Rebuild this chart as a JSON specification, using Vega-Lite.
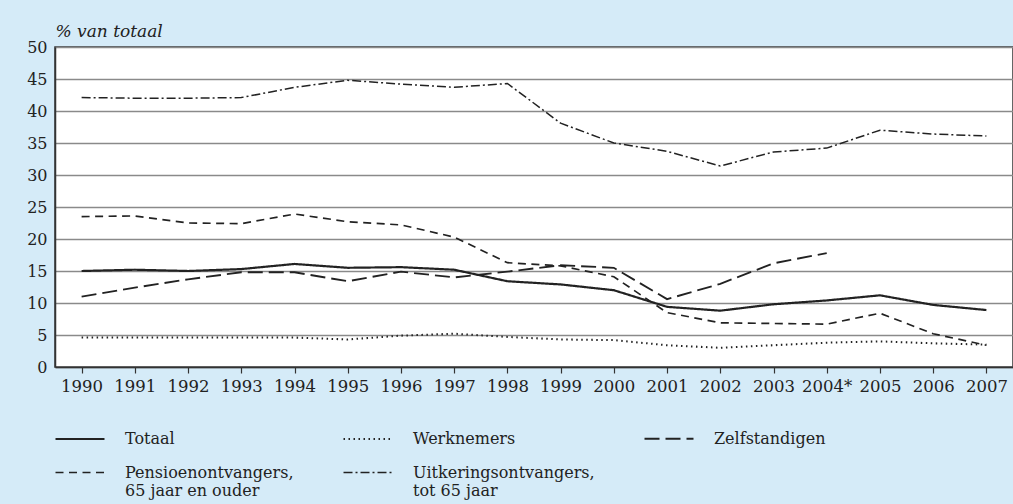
{
  "$schema": "https://vega.github.io/schema/vega-lite/v6.json",
  "autosize": {"type": "none"},
  "width": 958,
  "height": 320,
  "padding": {"left": 55, "top": 47, "right": 0, "bottom": 137},
  "background": "#d5ebf8",
  "config": {
    "view": {"fill": "white", "stroke": "#333", "strokeWidth": 1.5},
    "font": "DejaVu Serif"
  },
  "datasets": {
    "reeksen": [
      {"jaar": "1990", "reeks": "Totaal", "waarde": 15.0},
      {"jaar": "1991", "reeks": "Totaal", "waarde": 15.2},
      {"jaar": "1992", "reeks": "Totaal", "waarde": 15.0},
      {"jaar": "1993", "reeks": "Totaal", "waarde": 15.3},
      {"jaar": "1994", "reeks": "Totaal", "waarde": 16.1},
      {"jaar": "1995", "reeks": "Totaal", "waarde": 15.5},
      {"jaar": "1996", "reeks": "Totaal", "waarde": 15.6},
      {"jaar": "1997", "reeks": "Totaal", "waarde": 15.2},
      {"jaar": "1998", "reeks": "Totaal", "waarde": 13.4},
      {"jaar": "1999", "reeks": "Totaal", "waarde": 12.9},
      {"jaar": "2000", "reeks": "Totaal", "waarde": 12.0},
      {"jaar": "2001", "reeks": "Totaal", "waarde": 9.4},
      {"jaar": "2002", "reeks": "Totaal", "waarde": 8.8},
      {"jaar": "2003", "reeks": "Totaal", "waarde": 9.8},
      {"jaar": "2004*", "reeks": "Totaal", "waarde": 10.4},
      {"jaar": "2005", "reeks": "Totaal", "waarde": 11.2},
      {"jaar": "2006", "reeks": "Totaal", "waarde": 9.7},
      {"jaar": "2007", "reeks": "Totaal", "waarde": 8.9},
      {"jaar": "1990", "reeks": "Werknemers", "waarde": 4.6},
      {"jaar": "1991", "reeks": "Werknemers", "waarde": 4.6},
      {"jaar": "1992", "reeks": "Werknemers", "waarde": 4.6},
      {"jaar": "1993", "reeks": "Werknemers", "waarde": 4.6},
      {"jaar": "1994", "reeks": "Werknemers", "waarde": 4.6},
      {"jaar": "1995", "reeks": "Werknemers", "waarde": 4.3},
      {"jaar": "1996", "reeks": "Werknemers", "waarde": 4.9},
      {"jaar": "1997", "reeks": "Werknemers", "waarde": 5.2},
      {"jaar": "1998", "reeks": "Werknemers", "waarde": 4.7},
      {"jaar": "1999", "reeks": "Werknemers", "waarde": 4.3},
      {"jaar": "2000", "reeks": "Werknemers", "waarde": 4.2},
      {"jaar": "2001", "reeks": "Werknemers", "waarde": 3.4},
      {"jaar": "2002", "reeks": "Werknemers", "waarde": 3.0},
      {"jaar": "2003", "reeks": "Werknemers", "waarde": 3.4},
      {"jaar": "2004*", "reeks": "Werknemers", "waarde": 3.8},
      {"jaar": "2005", "reeks": "Werknemers", "waarde": 4.0},
      {"jaar": "2006", "reeks": "Werknemers", "waarde": 3.7},
      {"jaar": "2007", "reeks": "Werknemers", "waarde": 3.5},
      {"jaar": "1990", "reeks": "Zelfstandigen", "waarde": 11.0},
      {"jaar": "1991", "reeks": "Zelfstandigen", "waarde": 12.4},
      {"jaar": "1992", "reeks": "Zelfstandigen", "waarde": 13.7},
      {"jaar": "1993", "reeks": "Zelfstandigen", "waarde": 14.8},
      {"jaar": "1994", "reeks": "Zelfstandigen", "waarde": 14.8},
      {"jaar": "1995", "reeks": "Zelfstandigen", "waarde": 13.4},
      {"jaar": "1996", "reeks": "Zelfstandigen", "waarde": 14.9},
      {"jaar": "1997", "reeks": "Zelfstandigen", "waarde": 14.0},
      {"jaar": "1998", "reeks": "Zelfstandigen", "waarde": 14.9},
      {"jaar": "1999", "reeks": "Zelfstandigen", "waarde": 15.9},
      {"jaar": "2000", "reeks": "Zelfstandigen", "waarde": 15.5},
      {"jaar": "2001", "reeks": "Zelfstandigen", "waarde": 10.6},
      {"jaar": "2002", "reeks": "Zelfstandigen", "waarde": 13.0},
      {"jaar": "2003", "reeks": "Zelfstandigen", "waarde": 16.2},
      {"jaar": "2004*", "reeks": "Zelfstandigen", "waarde": 17.8},
      {"jaar": "1990", "reeks": "Pensioenontvangers, 65 jaar en ouder", "waarde": 23.5},
      {"jaar": "1991", "reeks": "Pensioenontvangers, 65 jaar en ouder", "waarde": 23.6},
      {"jaar": "1992", "reeks": "Pensioenontvangers, 65 jaar en ouder", "waarde": 22.5},
      {"jaar": "1993", "reeks": "Pensioenontvangers, 65 jaar en ouder", "waarde": 22.4},
      {"jaar": "1994", "reeks": "Pensioenontvangers, 65 jaar en ouder", "waarde": 23.9},
      {"jaar": "1995", "reeks": "Pensioenontvangers, 65 jaar en ouder", "waarde": 22.7},
      {"jaar": "1996", "reeks": "Pensioenontvangers, 65 jaar en ouder", "waarde": 22.2},
      {"jaar": "1997", "reeks": "Pensioenontvangers, 65 jaar en ouder", "waarde": 20.3},
      {"jaar": "1998", "reeks": "Pensioenontvangers, 65 jaar en ouder", "waarde": 16.3},
      {"jaar": "1999", "reeks": "Pensioenontvangers, 65 jaar en ouder", "waarde": 15.8},
      {"jaar": "2000", "reeks": "Pensioenontvangers, 65 jaar en ouder", "waarde": 14.1},
      {"jaar": "2001", "reeks": "Pensioenontvangers, 65 jaar en ouder", "waarde": 8.5},
      {"jaar": "2002", "reeks": "Pensioenontvangers, 65 jaar en ouder", "waarde": 6.9},
      {"jaar": "2003", "reeks": "Pensioenontvangers, 65 jaar en ouder", "waarde": 6.8},
      {"jaar": "2004*", "reeks": "Pensioenontvangers, 65 jaar en ouder", "waarde": 6.7},
      {"jaar": "2005", "reeks": "Pensioenontvangers, 65 jaar en ouder", "waarde": 8.4},
      {"jaar": "2006", "reeks": "Pensioenontvangers, 65 jaar en ouder", "waarde": 5.2},
      {"jaar": "2007", "reeks": "Pensioenontvangers, 65 jaar en ouder", "waarde": 3.4},
      {"jaar": "1990", "reeks": "Uitkeringsontvangers, tot 65 jaar", "waarde": 42.1},
      {"jaar": "1991", "reeks": "Uitkeringsontvangers, tot 65 jaar", "waarde": 42.0},
      {"jaar": "1992", "reeks": "Uitkeringsontvangers, tot 65 jaar", "waarde": 42.0},
      {"jaar": "1993", "reeks": "Uitkeringsontvangers, tot 65 jaar", "waarde": 42.1},
      {"jaar": "1994", "reeks": "Uitkeringsontvangers, tot 65 jaar", "waarde": 43.7},
      {"jaar": "1995", "reeks": "Uitkeringsontvangers, tot 65 jaar", "waarde": 44.8},
      {"jaar": "1996", "reeks": "Uitkeringsontvangers, tot 65 jaar", "waarde": 44.2},
      {"jaar": "1997", "reeks": "Uitkeringsontvangers, tot 65 jaar", "waarde": 43.7},
      {"jaar": "1998", "reeks": "Uitkeringsontvangers, tot 65 jaar", "waarde": 44.3},
      {"jaar": "1999", "reeks": "Uitkeringsontvangers, tot 65 jaar", "waarde": 38.1},
      {"jaar": "2000", "reeks": "Uitkeringsontvangers, tot 65 jaar", "waarde": 35.0},
      {"jaar": "2001", "reeks": "Uitkeringsontvangers, tot 65 jaar", "waarde": 33.7},
      {"jaar": "2002", "reeks": "Uitkeringsontvangers, tot 65 jaar", "waarde": 31.4},
      {"jaar": "2003", "reeks": "Uitkeringsontvangers, tot 65 jaar", "waarde": 33.6},
      {"jaar": "2004*", "reeks": "Uitkeringsontvangers, tot 65 jaar", "waarde": 34.2},
      {"jaar": "2005", "reeks": "Uitkeringsontvangers, tot 65 jaar", "waarde": 37.0},
      {"jaar": "2006", "reeks": "Uitkeringsontvangers, tot 65 jaar", "waarde": 36.4},
      {"jaar": "2007", "reeks": "Uitkeringsontvangers, tot 65 jaar", "waarde": 36.1}
    ]
  },
  "data": {"name": "reeksen"},
  "mark": {"type": "line", "color": "#222", "strokeCap": "butt"},
  "encoding": {
    "x": {
      "field": "jaar",
      "type": "ordinal",
      "sort": null,
      "scale": {"type": "point", "padding": 0.5},
      "axis": {
        "title": null,
        "labelAngle": 0,
        "labelFont": "DejaVu Serif",
        "labelFontSize": 16.5,
        "labelColor": "#222",
        "labelPadding": 5,
        "ticks": true,
        "tickSize": 6,
        "tickColor": "#333",
        "tickWidth": 1.2,
        "domain": true,
        "domainColor": "#333",
        "domainWidth": 1.5,
        "grid": false,
        "labelOverlap": false
      }
    },
    "y": {
      "field": "waarde",
      "type": "quantitative",
      "scale": {"domain": [0, 50], "nice": false},
      "axis": {
        "values": [0, 5, 10, 15, 20, 25, 30, 35, 40, 45, 50],
        "title": "% van totaal",
        "titleAngle": 0,
        "titleAlign": "left",
        "titleBaseline": "alphabetic",
        "titleX": 0,
        "titleY": -11,
        "titleFont": "DejaVu Serif",
        "titleFontStyle": "italic",
        "titleFontWeight": "normal",
        "titleFontSize": 17,
        "titleColor": "#222",
        "labelFont": "DejaVu Serif",
        "labelFontSize": 16,
        "labelColor": "#222",
        "labelPadding": 8,
        "ticks": false,
        "domain": true,
        "domainColor": "#333",
        "domainWidth": 1.5,
        "grid": true,
        "gridColor": "#8a8a8a",
        "gridWidth": 1.5
      }
    },
    "strokeDash": {
      "field": "reeks",
      "type": "nominal",
      "scale": {
        "domain": ["Totaal", "Werknemers", "Zelfstandigen", "Pensioenontvangers, 65 jaar en ouder", "Uitkeringsontvangers, tot 65 jaar"],
        "range": [[1, 0], [1.5, 3.5], [15, 6], [8, 5.5], [9, 3, 2, 3]]
      },
      "legend": {
        "title": null,
        "orient": "none",
        "direction": "horizontal",
        "legendX": -1,
        "legendY": 366,
        "columns": 3,
        "columnPadding": 45,
        "rowPadding": -8,
        "symbolType": "stroke",
        "symbolSize": 2400,
        "symbolStrokeColor": "#222",
        "labelFont": "DejaVu Serif",
        "labelFontSize": 16,
        "labelColor": "#222",
        "labelOffset": 19,
        "labelLimit": 300,
        "labelExpr": "datum.label == 'Pensioenontvangers, 65 jaar en ouder' ? ['Pensioenontvangers,', '65 jaar en ouder'] : datum.label == 'Uitkeringsontvangers, tot 65 jaar' ? ['Uitkeringsontvangers,', 'tot 65 jaar'] : datum.label"
      }
    },
    "strokeWidth": {
      "field": "reeks",
      "type": "nominal",
      "scale": {
        "domain": ["Totaal", "Werknemers", "Zelfstandigen", "Pensioenontvangers, 65 jaar en ouder", "Uitkeringsontvangers, tot 65 jaar"],
        "range": [2.2, 1.5, 1.5, 1.5, 1.5]
      },
      "legend": null
    }
  }
}
